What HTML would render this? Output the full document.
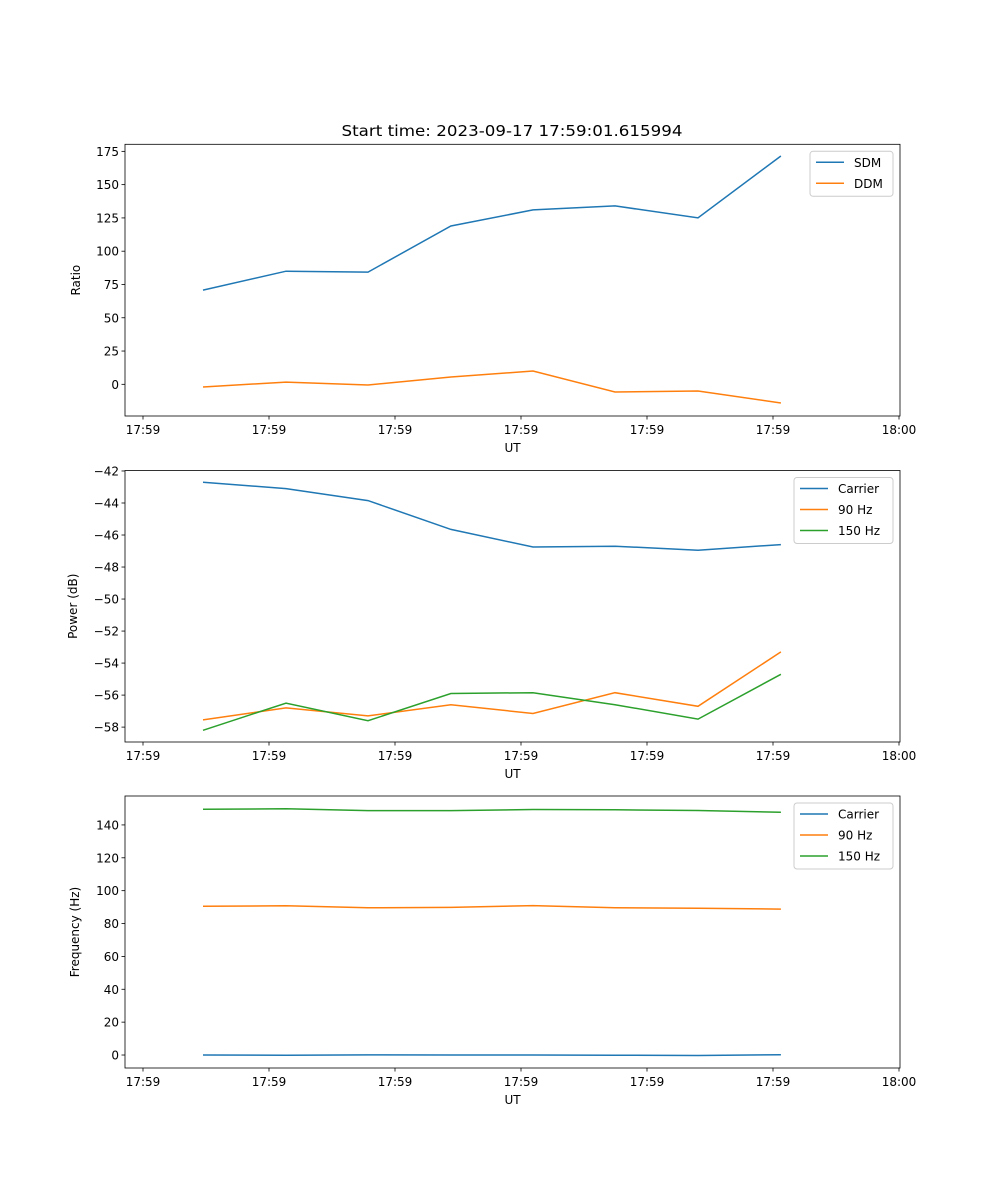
<!DOCTYPE html>
<html><head><meta charset="utf-8"><style>
html,body{margin:0;padding:0;background:#fff;}
svg{display:block;font-family:"DejaVu Sans","Liberation Sans",sans-serif;}
</style></head><body>
<svg id="chart" width="1000" height="1200" viewBox="0 0 1000 1200"></svg>
<script>
const tickLabels = ["17:59","17:59","17:59","17:59","17:59","17:59","18:00"];
const tickTimes = [0,10,20,30,40,50,60];
const times = [4.76,11.35,17.86,24.44,30.95,37.46,44.05,50.63];
const sdm = [70.8,85,84.3,118.9,131,134,125,171.5];
const ddm = [-2,1.7,-0.5,5.5,10,-5.8,-5,-14];
const powCarrier = [-42.7,-43.1,-43.85,-45.65,-46.75,-46.7,-46.95,-46.6];
const pow90 = [-57.55,-56.8,-57.3,-56.6,-57.15,-55.85,-56.7,-53.3];
const pow150 = [-58.2,-56.5,-57.6,-55.9,-55.85,-56.6,-57.5,-54.7];
const freqCarrier = [0,-0.1,0.1,0,0,-0.1,-0.3,0.2];
const freq90 = [90.5,90.8,89.6,89.8,90.9,89.6,89.3,88.8];
const freq150 = [149.5,149.8,148.7,148.7,149.4,149.2,148.8,147.7];
const ratioTicks = [0,25,50,75,100,125,150,175];
const powTicks = [-58,-56,-54,-52,-50,-48,-46,-44,-42];
const freqTicks = [0,20,40,60,80,100,120,140];

const NS="http://www.w3.org/2000/svg";
const svg=document.getElementById('chart');
function mk(tag,attrs,parent){const e=document.createElementNS(NS,tag);for(const k in attrs)e.setAttribute(k,attrs[k]);(parent||svg).appendChild(e);return e;}
const L=125,R=900;
const xScale=t=>143+(t-0)*(899-143)/60;
const colors=["#1f77b4","#ff7f0e","#2ca02c"];

function panel(name,top,bottom,ymin,ymax,yticks,ylabel,series,names,legend){
  const g=mk('g',{});
  
  
  const y=v=>bottom-(v-ymin)*(bottom-top)/(ymax-ymin);
  series.forEach((s,si)=>{
    const p=mk('polyline',{points:s.map((v,i)=>xScale(times[i]).toFixed(1)+','+y(v).toFixed(1)).join(' '),fill:'none',stroke:colors[si],'stroke-width':1.5},g);
    
    
  });
  const fr=mk('rect',{x:L,y:top,width:R-L,height:bottom-top,fill:'none',stroke:'#000','stroke-width':0.8},g);
  
  
  tickTimes.forEach((t,i)=>{
    const x=xScale(t);
    mk('line',{x1:x,x2:x,y1:bottom,y2:bottom+3.5,stroke:'#000','stroke-width':0.8},g);
    const tx=mk('text',{x:x,y:bottom+18,'font-size':12,'text-anchor':'middle'},g);
    tx.textContent=tickLabels[i];
    
    
  });
  yticks.forEach(v=>{
    const yy=y(v);
    mk('line',{x1:L-3.5,x2:L,y1:yy,y2:yy,stroke:'#000','stroke-width':0.8},g);
    const tx=mk('text',{x:L-6,y:yy+4.5,'font-size':12,'text-anchor':'end'},g);
    tx.textContent=(v<0?'\u2212'+(-v):String(v));
    
    
  });
  const xl=mk('text',{x:(L+R)/2,y:bottom+36,'font-size':12,'text-anchor':'middle'},g);
  xl.textContent='UT';
  
  
  const cy=(top+bottom)/2;
  const yl=mk('text',{x:0,y:0,'font-size':12,'text-anchor':'middle',transform:`translate(${legend.ylx},${cy}) rotate(-90)`},g);
  yl.textContent=ylabel;
  
  
  const lg=mk('g',{},g);
  
  
  mk('rect',{x:legend.x,y:top+7,width:legend.w,height:3+names.length*21,rx:3,fill:'#fff','fill-opacity':0.8,stroke:'#ccc','stroke-width':1},lg);
  names.forEach((n,i)=>{
    const ly=top+18+i*21;
    mk('line',{x1:legend.x+6,x2:legend.x+34,y1:ly,y2:ly,stroke:colors[i],'stroke-width':1.5},lg);
    const t=mk('text',{x:legend.x+44,y:ly+4.5,'font-size':12},lg);
    t.textContent=n;
    
    
  });
}
const title=mk('text',{x:512,y:136,'font-size':15,'text-anchor':'middle',textLength:341,lengthAdjust:'spacingAndGlyphs'});
title.textContent='Start time: 2023-09-17 17:59:01.615994';



panel('ratio',144.3,416,-23.8,180.3,ratioTicks,'Ratio',[sdm,ddm],['SDM','DDM'],{x:810,w:83,ylx:80});
panel('power',470.5,742,-58.93,-41.97,powTicks,'Power (dB)',[powCarrier,pow90,pow150],['Carrier','90 Hz','150 Hz'],{x:794,w:99,ylx:77});
panel('frequency',796,1068,-7.9,157.6,freqTicks,'Frequency (Hz)',[freqCarrier,freq90,freq150],['Carrier','90 Hz','150 Hz'],{x:794,w:99,ylx:79});
</script>
</body></html>
